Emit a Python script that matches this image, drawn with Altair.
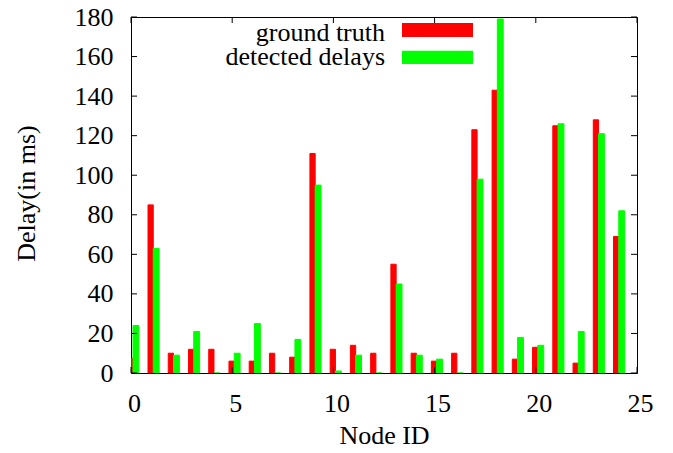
import altair as alt
import pandas as pd

nodes = list(range(25))
ground_truth = [7.5, 85, 10, 12, 12, 6, 6, 10, 8, 111, 12, 14, 10, 55, 10, 6, 10, 123, 143, 7, 13, 125, 5, 128, 69]
detected = [24, 63, 9, 21, 0, 10, 25, 0, 17, 95, 1, 9, 0, 45, 9, 7, 0, 98, 179, 18, 14, 126, 21, 121, 82]
series_names = ["ground truth", "detected delays"]
series_colors = ["#ff0000", "#00ff00"]
y_ticks = [0, 20, 40, 60, 80, 100, 120, 140, 160, 180]
x_ticks = [0, 5, 10, 15, 20, 25]

W, H = 506, 356
TOP = 9
FONT = "'Liberation Serif', 'Times New Roman', Times, 'DejaVu Serif', serif"
FS = 26

df = pd.DataFrame({"node": nodes, "gt": ground_truth, "det": detected})

xscale = alt.Scale(domain=[0, 25], nice=False, zero=False)
yscale = alt.Scale(domain=[0, 180], nice=False)

x_axis = alt.Axis(values=x_ticks, title="Node ID", grid=False, domain=False, ticks=False, tickSize=0,
                  labelPadding=17, labelOffset=3, labelFont=FONT, labelFontSize=FS, labelColor="black",
                  titleFont=FONT, titleFontSize=FS, titleFontWeight="normal", titleColor="black",
                  titleBaseline="alphabetic", titleY=70, labelFlush=False)
y_axis = alt.Axis(values=y_ticks, title="Delay(in ms)", grid=False, domain=False, ticks=False, tickSize=0,
                  labelPadding=18, labelFont=FONT, labelFontSize=FS, labelColor="black",
                  titleFont=FONT, titleFontSize=FS, titleFontWeight="normal", titleColor="black",
                  titleBaseline="alphabetic", titleX=-97, titleY=176, titleAngle=-90, titleAlign="center",
                  labelFlush=False)

red = alt.Chart(df).transform_calculate(
    xs="datum.node - 0.16", xe="datum.node + 0.1"
).mark_rect(color=series_colors[0], stroke=series_colors[0], strokeWidth=1, clip=True).encode(
    x=alt.X("xs:Q", scale=xscale, axis=x_axis),
    x2="xe:Q",
    y=alt.Y("gt:Q", scale=yscale, axis=y_axis),
    y2=alt.datum(0),
)

green = alt.Chart(df).transform_calculate(
    xs="datum.node + 0.1", xe="datum.node + 0.39"
).mark_rect(color=series_colors[1], stroke=series_colors[1], strokeWidth=1, clip=True).encode(
    x=alt.X("xs:Q", scale=xscale, axis=x_axis),
    x2="xe:Q",
    y=alt.Y("det:Q", scale=yscale, axis=y_axis),
    y2=alt.datum(0),
)

ydf = pd.DataFrame({"v": y_ticks})
xdf = pd.DataFrame({"v": x_ticks})
tick_style = dict(color="black", strokeWidth=1)
left_ticks = alt.Chart(ydf).mark_rule(**tick_style).encode(
    y=alt.Y("v:Q", scale=yscale, axis=y_axis), x=alt.value(0), x2=alt.value(6))
right_ticks = alt.Chart(ydf).mark_rule(**tick_style).encode(
    y=alt.Y("v:Q", scale=yscale, axis=y_axis), x=alt.value(W - 6), x2=alt.value(W))
top_ticks = alt.Chart(xdf).mark_rule(**tick_style).encode(
    x=alt.X("v:Q", scale=xscale, axis=x_axis), y=alt.value(0), y2=alt.value(6))
bottom_ticks = alt.Chart(xdf).mark_rule(**tick_style).encode(
    x=alt.X("v:Q", scale=xscale, axis=x_axis), y=alt.value(H - 6), y2=alt.value(H))

legend_layers = []
legend_pos = [(24, 6, 20), (48, 33.7, 47)]
for name, col, (ty, sy1, sy2) in zip(series_names, series_colors, legend_pos):
    ldf = pd.DataFrame({"label": [name]})
    legend_layers.append(
        alt.Chart(ldf).mark_text(align="right", baseline="alphabetic", font=FONT, fontSize=FS, color="black").encode(
            text="label:N", x=alt.value(254), y=alt.value(ty)))
    legend_layers.append(
        alt.Chart(ldf).mark_rect(color=col).encode(
            x=alt.value(271), x2=alt.value(342), y=alt.value(sy1), y2=alt.value(sy2)))

chart = alt.layer(red, green, left_ticks, right_ticks, top_ticks, bottom_ticks, *legend_layers).properties(
    width=W, height=H,
    autosize=alt.AutoSizeParams(type="none"),
    padding={"left": 123, "top": TOP, "right": 28, "bottom": 72},
    background="white",
).configure_view(stroke="black", strokeWidth=1)

chart.save("out.html", embed_options={"renderer": "svg", "actions": False})
